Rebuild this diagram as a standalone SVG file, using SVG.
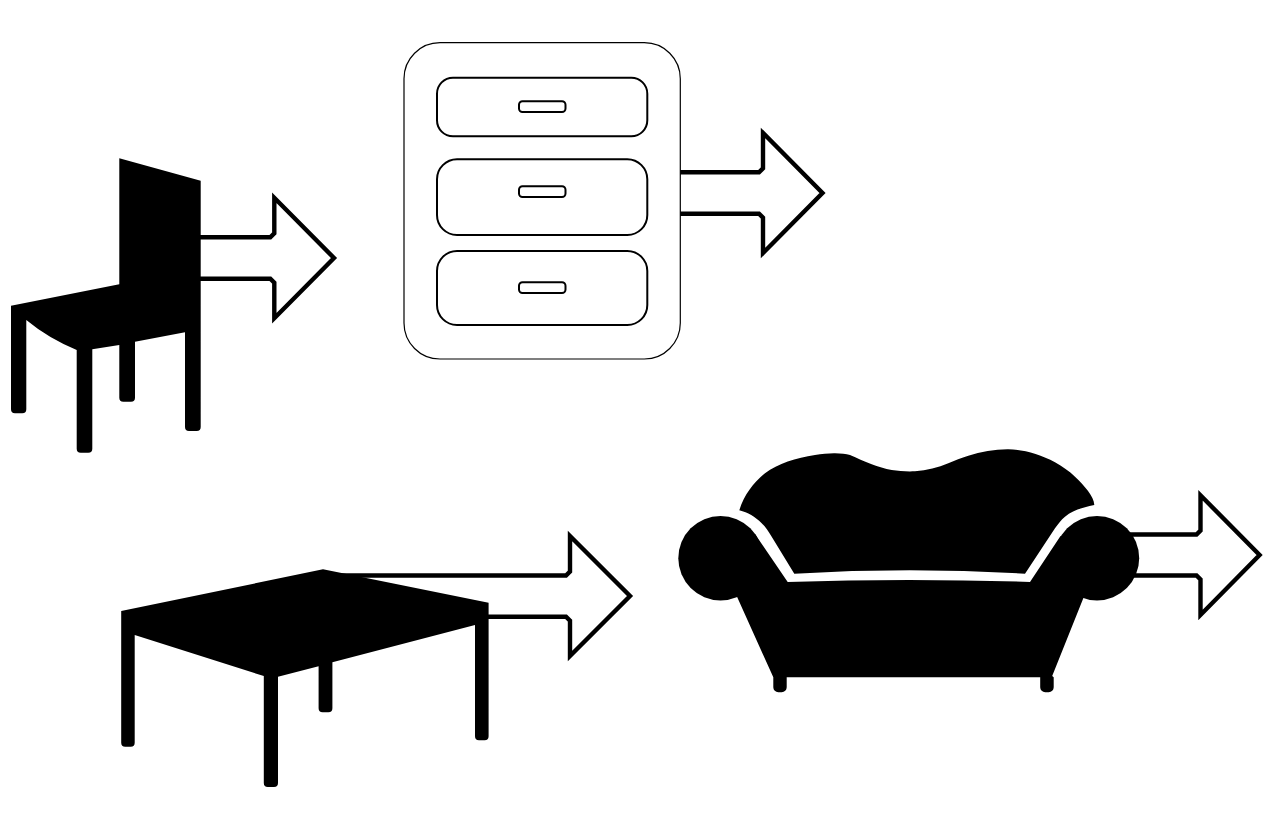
<svg xmlns="http://www.w3.org/2000/svg" width="1267" height="824" viewBox="0 0 1267 824">
<style>
.arrow{fill:#fff;stroke:#000;stroke-width:4.4;stroke-miterlimit:10}
.solid{fill:#000;stroke:none}
.body{fill:#fff;stroke:#000;stroke-width:1.2}
.drawer{fill:#fff;stroke:#000;stroke-width:2}
</style>
<rect width="1267" height="824" fill="#fff"/>
<g id="connectors">
<path class="arrow" d="M195 237.3H270.3L274.3 233.3V197.8L334 258L274.3 318.2V282.7L270.3 278.7H195"/>
<path class="arrow" d="M675 172.3H759L763 168.3V133L822.5 193L763 253V217.7L759 213.7H675"/>
<path class="arrow" d="M330 575.5H566L570 571.5V536L630 596L570 656V620.7L566 616.7H480"/>
<path class="arrow" d="M1125 534.5H1196.5L1200.5 530.5V495.3L1259.6 555L1200.5 615V579.5L1196.5 575.5H1125"/>
</g>
<g id="chair">
<path class="solid" d="M119.3 158.3L200.7 180.7V427a4 4 0 0 1-4 4H189a4 4 0 0 1-4-4V332.3L135 341.7V397.7a4 4 0 0 1-4 4H123.3a4 4 0 0 1-4-4V345L92.3 349.3V448.7a4 4 0 0 1-4 4H80.7a4 4 0 0 1-4-4V350Q48 338 26.3 320V409.3a4 4 0 0 1-4 4H15a4 4 0 0 1-4-4V305.7L119.3 284.3Z"/>
</g>
<g id="cabinet">
<rect class="body" x="404" y="42.7" width="276.3" height="316.3" rx="36" ry="36"/>
<rect class="drawer" x="437" y="77.7" width="210.3" height="58.6" rx="16"/>
<rect class="drawer" x="519" y="101.3" width="46.5" height="10.8" rx="3.5"/>
<rect class="drawer" x="437" y="159.3" width="210.3" height="75.7" rx="20"/>
<rect class="drawer" x="519" y="186.3" width="46.5" height="10.8" rx="3.5"/>
<rect class="drawer" x="437" y="251" width="210.3" height="74" rx="20"/>
<rect class="drawer" x="519" y="282.3" width="46.5" height="10.8" rx="3.5"/>
</g>
<g id="table">
<path class="solid" d="M323 569.3L488.6 602.7V736.3a4 4 0 0 1-4 4H479a4 4 0 0 1-4-4V625L332.4 662.3V708.3a4 4 0 0 1-4 4H322.6a4 4 0 0 1-4-4V666.3L278 676.7V783a4 4 0 0 1-4 4H267.8a4 4 0 0 1-4-4V676L134.7 635V742.7a4 4 0 0 1-4 4H125.2a4 4 0 0 1-4-4V611Z"/>
</g>
<g id="sofa">
<circle class="solid" cx="720.5" cy="558.2" r="42.2"/>
<circle class="solid" cx="1097" cy="558.2" r="42.2"/>
<path class="solid" d="M737.7 598.3L773.3 677.3V687.3a5 5 0 0 0 5 5H781.7a5 5 0 0 0 5-5V677.3H1040.2V687.3a5 5 0 0 0 5 5H1048.7a5 5 0 0 0 5-5V677.3L1052.2 676L1083.3 598.3L1097 558L1060.5 536L1030 582Q908.8 578 787.7 582L755 534L720 558Z"/>
<path class="solid" d="M739.3 510.3C744 495 754 482 765 473.3C778 463.5 796 458 815 455C822 454 829 453.2 835 453.3C841 453.4 846 453.8 850 455C857 458 864 461.5 871.7 464.3C878 466.8 885 468.8 891.7 470C899 471.2 907 471.6 915 471.3C927 470.6 938 467.6 948.3 463.3C955 460.5 961 458 968.3 455.7C981 451.5 995 449.2 1008.3 449.3C1023 449.4 1040 454 1055 462.3C1062.5 466.5 1069 471 1075 476.7C1084 485.5 1094 496 1094.3 505C1083 507.5 1073 510 1065 516.7C1061 520 1058 524 1055 528.3L1025 573.7Q910 566.9 794.3 573.7L771.7 536.7C768.5 531.5 765.5 527 761.7 523.3C755 516.5 748 512.5 739.3 510.3Z"/>
</g>
</svg>
